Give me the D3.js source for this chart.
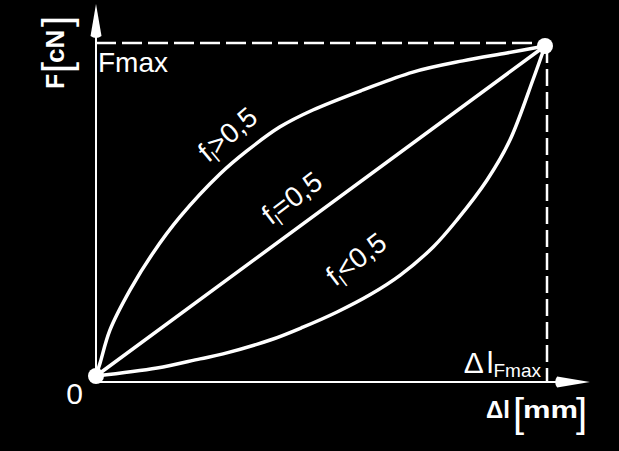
<!DOCTYPE html>
<html>
<head>
<meta charset="utf-8">
<script src="https://cdn.jsdelivr.net/npm/d3@7"></script>
<style>
  html, body { margin: 0; padding: 0; background: #000; }
  svg { display: block; }
  text { font-family: "Liberation Sans", Arial, sans-serif; fill: #fff; }
</style>
</head>
<body>
<div id="chart"></div>
<script>
// normalised elongation (Δl / Δl_Fmax) and force (F / Fmax)
const upperX = [0, 0.009, 0.031, 0.076, 0.127, 0.187, 0.276, 0.336, 0.41, 0.483, 0.595, 0.706, 0.817, 0.915, 1];
const upperY = [0, 0.039, 0.139, 0.261, 0.373, 0.482, 0.612, 0.682, 0.755, 0.806, 0.867, 0.921, 0.955, 0.979, 1];
const linearX = [0, 1];
const linearY = [0, 1];
const lowerX = [0, 0.136, 0.232, 0.283, 0.388, 0.461, 0.537, 0.61, 0.677, 0.751, 0.804, 0.871, 0.922, 0.973, 1];
const lowerY = [0, 0.024, 0.052, 0.067, 0.109, 0.148, 0.194, 0.246, 0.305, 0.391, 0.473, 0.594, 0.715, 0.897, 1];
const curveLabels = ['>0,5', '=0,5', '<0,5'];
const endPoints = [[0, 0], [1, 1]];

const width = 619, height = 451;

const x = d3.scaleLinear().domain([0, 1]).range([96, 545]);
const y = d3.scaleLinear().domain([0, 1]).range([376, 46]);

const svg = d3.select('#chart').append('svg')
  .attr('width', width)
  .attr('height', height);

svg.append('rect').attr('width', width).attr('height', height).attr('fill', '#000');

// Fmax / Δl_Fmax guide lines
svg.append('line')
  .attr('x1', x(0)).attr('x2', x(1))
  .attr('y1', y(1) - 3).attr('y2', y(1) - 3)
  .attr('stroke', '#fff').attr('stroke-width', 2.5)
  .attr('stroke-dasharray', '20,6');
svg.append('line')
  .attr('x1', x(1) + 2).attr('x2', x(1) + 2)
  .attr('y1', y(1)).attr('y2', y(0) + 6)
  .attr('stroke', '#fff').attr('stroke-width', 2.5)
  .attr('stroke-dasharray', '17,6');

// Axes (no ticks, just the lines + arrows)
svg.append('line')
  .attr('x1', x(0)).attr('x2', x(0))
  .attr('y1', y(0)).attr('y2', y(1.03))
  .attr('stroke', '#fff').attr('stroke-width', 2);
svg.append('line')
  .attr('x1', x(0)).attr('x2', x(1.027))
  .attr('y1', y(0) + 6).attr('y2', y(0) + 6)
  .attr('stroke', '#fff').attr('stroke-width', 2);

const ax = x(0), tipY = y(1.127), baseY = y(1.03);
svg.append('path')
  .attr('d', `M${ax},${tipY} L${ax + 5.5},${baseY} Q${ax},${baseY + 4} ${ax - 5.5},${baseY} Z`)
  .attr('fill', '#fff');
const ay = y(0) + 6, tipX = x(1.1), baseX = x(1.027);
svg.append('path')
  .attr('d', `M${tipX},${ay} L${baseX},${ay - 5.5} Q${baseX - 4},${ay} ${baseX},${ay + 5.5} Z`)
  .attr('fill', '#fff');

// Curves
const line = d3.line()
  .x(d => x(d[0]))
  .y(d => y(d[1]))
  .curve(d3.curveCatmullRom.alpha(0.5));

const series = [
  upperX.map((v, i) => [v, upperY[i]]),
  linearX.map((v, i) => [v, linearY[i]]),
  lowerX.map((v, i) => [v, lowerY[i]])
];

svg.selectAll('.curve')
  .data(series)
  .enter()
  .append('path')
  .attr('class', 'curve')
  .attr('d', line)
  .attr('fill', 'none')
  .attr('stroke', '#fff')
  .attr('stroke-width', 3.5)
  .attr('stroke-linecap', 'round');

svg.selectAll('.dot')
  .data(endPoints)
  .enter()
  .append('circle')
  .attr('class', 'dot')
  .attr('cx', d => x(d[0]))
  .attr('cy', d => y(d[1]))
  .attr('r', 8)
  .attr('fill', '#fff');

// Curve labels
const labelPos = [[0.25, 0.645, -40], [0.39, 0.455, -37], [0.533, 0.27, -37]];
curveLabels.forEach((lbl, i) => {
  const [lx, ly, rot] = labelPos[i];
  const t = svg.append('text')
    .attr('transform', `translate(${x(lx)},${y(ly)}) rotate(${rot})`)
    .attr('font-size', 28);
  t.append('tspan').text('f');
  t.append('tspan').attr('font-size', 17).attr('dy', 6).text('l');
  t.append('tspan').attr('dy', -6).text(lbl);
});

// Axis annotations
svg.append('text')
  .attr('x', x(0) + 2).attr('y', y(1) + 26)
  .attr('font-size', 28)
  .text('Fmax');

svg.append('text')
  .attr('x', x(0) - 13).attr('y', y(0) + 28)
  .attr('text-anchor', 'end')
  .attr('font-size', 30)
  .text('0');

const dl = svg.append('text')
  .attr('x', x(1) - 4).attr('y', y(0) - 3)
  .attr('text-anchor', 'end')
  .attr('font-size', 30);
dl.append('tspan').text('Δ');
dl.append('tspan').attr('dx', 3).text('l');
dl.append('tspan').attr('font-size', 19).attr('dy', 4).text('Fmax');

// x title: Δl [mm]
const xTitle = svg.append('g').attr('font-weight', 'bold');
xTitle.append('text').attr('x', 486).attr('y', 418).attr('font-size', 24).text('Δl');
xTitle.append('text').attr('x', 513).attr('y', 427).attr('font-size', 40).attr('font-weight', 'normal').text('[');
xTitle.append('text').attr('x', 523).attr('y', 418).attr('font-size', 24)
  .attr('textLength', 55).attr('lengthAdjust', 'spacingAndGlyphs').text('mm');
xTitle.append('text').attr('x', 576).attr('y', 427).attr('font-size', 40).attr('font-weight', 'normal').text(']');

// y title: F [cN], reading upwards
const yTitle = svg.append('g')
  .attr('transform', 'translate(64,89) rotate(-90)')
  .attr('font-weight', 'bold');
yTitle.append('text').attr('x', 0).attr('y', 0).attr('font-size', 25).text('F');
yTitle.append('text').attr('x', 16).attr('y', 7).attr('font-size', 40).attr('font-weight', 'normal').text('[');
yTitle.append('text').attr('x', 26).attr('y', 0).attr('font-size', 26).text('cN');
yTitle.append('text').attr('x', 62).attr('y', 7).attr('font-size', 40).attr('font-weight', 'normal').text(']');
</script>
</body>
</html>
